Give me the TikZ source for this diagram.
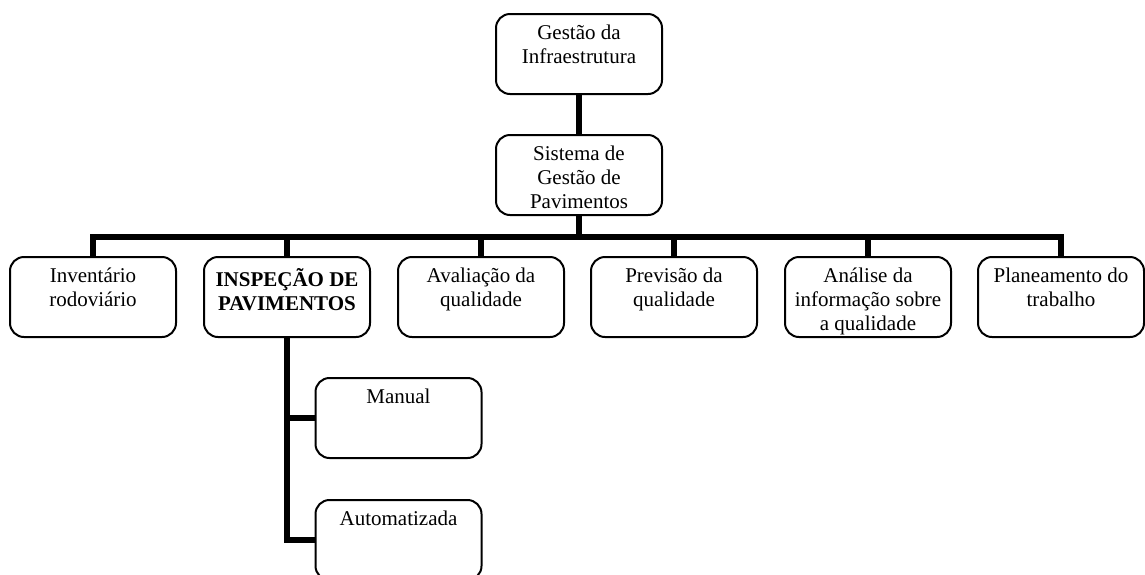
\documentclass[tikz,border=0pt]{standalone}
\usepackage{fontspec}
\setmainfont{Liberation Serif}
\usetikzlibrary{backgrounds}
\begin{document}
\begin{tikzpicture}[x=1pt,y=-1pt,
  box/.style={draw=black, line width=2pt, rounded corners=14pt, fill=white,
    minimum width=166pt, minimum height=80pt, inner sep=0pt},
  lab/.style={anchor=north, inner sep=0pt, align=center,
    font=\fontsize{21}{24}\selectfont},
  conn/.style={line width=6pt, draw=black}]
\path[use as bounding box, clip] (0,0) rectangle (1145,574);

% boxes
\node[box] (g) at (579,54) {};
\node[lab] (gT) at ([yshift=-12pt]g.north) {Gestão da\\Infraestrutura};
\node[box] (s) at (579,175) {};
\node[lab] (sT) at ([yshift=-12pt]s.north) {Sistema de\\Gestão de\\Pavimentos};

\node[box] (inv) at (93,297) {};
\node[lab] (invT) at ([yshift=-12pt]inv.north) {Inventário\\rodoviário};
\node[box] (insp) at (287,297) {};
\node[lab] (inspT) at ([yshift=-12pt]insp.north) {\bfseries INSPEÇÃO DE\\\bfseries PAVIMENTOS};
\node[box] (aval) at (481,297) {};
\node[lab] (avalT) at ([yshift=-12pt]aval.north) {Avaliação da\\qualidade};
\node[box] (prev) at (674,297) {};
\node[lab] (prevT) at ([yshift=-12pt]prev.north) {Previsão da\\qualidade};
\node[box] (anal) at (868,297) {};
\node[lab] (analT) at ([yshift=-12pt]anal.north) {Análise da\\informação sobre\\a qualidade};
\node[box] (plan) at (1061,297) {};
\node[lab] (planT) at ([yshift=-12pt]plan.north) {Planeamento do\\trabalho};

\node[box] (man) at (398.5,418) {};
\node[lab] (manT) at ([yshift=-12pt]man.north) {Manual};
\node[box] (auto) at (398.5,540) {};
\node[lab] (autoT) at ([yshift=-12pt]auto.north) {Automatizada};

\coordinate (bus) at (0,237);

% connectors
\begin{scope}[on background layer]
  \draw[conn] (g.south) -- (s.north);
  \draw[conn] (s.south) -- (s.south |- bus);
  \draw[conn] (inv.north) -- (inv.north |- bus) -- (plan.north |- bus) -- (plan.north);
  \foreach \c in {insp,aval,prev,anal}
    \draw[conn] (\c.north) -- (\c.north |- bus);
  \draw[conn] (insp.south) |- (auto.west);
  \draw[conn] (insp.south |- man.west) -- (man.west);
\end{scope}
\end{tikzpicture}
\end{document}
